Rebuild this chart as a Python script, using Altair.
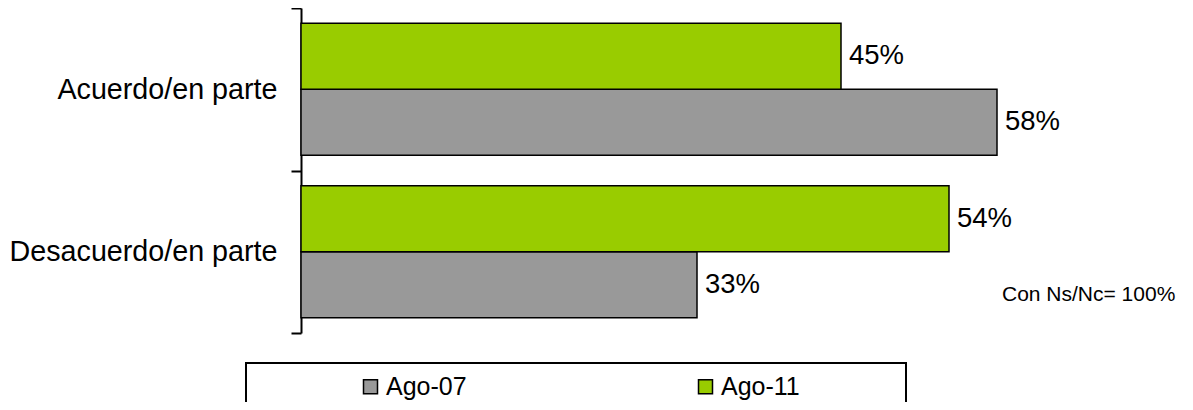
import altair as alt
import pandas as pd

categories = ["Acuerdo/en parte", "Desacuerdo/en parte"]
series = ["Ago-07", "Ago-11"]
values_ago07 = [58, 33]
values_ago11 = [45, 54]
colors = ["#999999", "#99CC00"]
note = "Con Ns/Nc= 100%"

rows = []
for i, c in enumerate(categories):
    rows.append({"cat": c, "serie": "Ago-07", "value": values_ago07[i]})
    rows.append({"cat": c, "serie": "Ago-11", "value": values_ago11[i]})
df = pd.DataFrame(rows)
df["label"] = df["value"].astype(str) + "%"

FONT = "Liberation Sans"

y_enc = alt.Y(
    "cat:N", sort=categories,
    scale=alt.Scale(paddingInner=0, paddingOuter=0),
    axis=alt.Axis(title=None, domainColor="black", domainWidth=2,
                  tickColor="black", tickWidth=2, tickSize=10, tickBand="extent",
                  labelFont=FONT, labelFontSize=28.7, labelColor="black",
                  labelPadding=14, labelLimit=400, grid=False),
)
yoff = alt.YOffset("serie:N", sort=["Ago-11", "Ago-07"],
                   scale=alt.Scale(paddingInner=0, paddingOuter=0.23))
x_enc = alt.X("value:Q", scale=alt.Scale(domain=[0, 70]), axis=None)

bars = alt.Chart(df).mark_bar(stroke="black", strokeWidth=1.5).encode(
    x=x_enc, y=y_enc, yOffset=yoff,
    color=alt.Color(
        "serie:N", scale=alt.Scale(domain=series, range=colors),
        legend=alt.Legend(title=None, orient="none", legendX=57, legendY=366,
                          direction="horizontal", symbolType="square", symbolSize=196,
                          symbolStrokeColor="black", symbolStrokeWidth=1.5,
                          labelFont=FONT, labelFontSize=25, labelColor="black",
                          labelOffset=3, columnPadding=226, padding=0),
    ),
)

texts = alt.Chart(df).mark_text(align="left", baseline="middle", dx=8, fontSize=27.5,
                                font=FONT, color="black").encode(
    x=x_enc, y=y_enc, yOffset=yoff, text="label:N"
)

note_layer = alt.Chart(pd.DataFrame({"t": [note]})).mark_text(
    align="left", baseline="middle", fontSize=21, font=FONT, color="black"
).encode(x=alt.value(701), y=alt.value(287), text="t:N")

box = alt.Chart(pd.DataFrame({"k": [0]})).mark_rect(
    fill="transparent", stroke="black", strokeWidth=2
).encode(x=alt.value(-55), x2=alt.value(605), y=alt.value(355), y2=alt.value(420))

chart = alt.layer(box, bars, texts, note_layer).properties(
    width=840, height=325,
    autosize=alt.AutoSizeParams(type="none"),
    padding={"left": 293, "top": 0, "right": 44, "bottom": 69},
).configure_view(stroke=None)

chart.save("out.html", embed_options={"renderer": "svg", "actions": False})
